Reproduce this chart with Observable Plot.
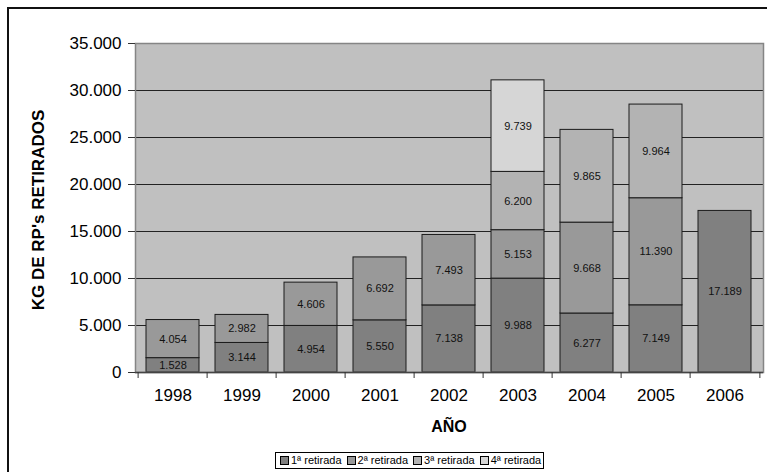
<!DOCTYPE html>
<html>
<head>
<meta charset="utf-8">
<script src="https://cdn.jsdelivr.net/npm/d3@7"></script>
<script src="https://cdn.jsdelivr.net/npm/@observablehq/plot@0.6"></script>
<style>
  body { margin: 0; background: #fff; }
  #wrap { position: relative; width: 767px; height: 472px; overflow: hidden; font-family: "Liberation Sans", Arial, sans-serif; }
  #border { position: absolute; left: 7px; top: 7px; width: 900px; height: 600px; border-left: 2px solid #111; border-top: 2px solid #111; }
  #chart { position: absolute; left: 0; top: 0; }
  #ytitle { position: absolute; left: 39px; top: 210px; transform: translate(-50%, -50%) rotate(-90deg); font-weight: bold; font-size: 17px; white-space: nowrap; }
  #xtitle { position: absolute; left: 449px; top: 427px; transform: translate(-50%, -50%); font-weight: bold; font-size: 16px; white-space: nowrap; }
  #legend { position: absolute; left: 275px; top: 452px; border: 1px solid #000; background: #fff; font-size: 11px; padding: 1px 2px 1px 4px; display: flex; gap: 5px; white-space: nowrap; line-height: 13px; }
  #legend span.sw { display: inline-block; width: 7px; height: 7px; border: 1px solid #000; margin-right: 2px; vertical-align: -1px; }
</style>
</head>
<body>
<div id="wrap">
  <div id="border"></div>
  <div id="chart"></div>
  <div id="ytitle">KG DE RP's RETIRADOS</div>
  <div id="xtitle">AÑO</div>
  <div id="legend"></div>
</div>
<script>
const years = ["1998", "1999", "2000", "2001", "2002", "2003", "2004", "2005", "2006"];
const seriesNames = ["1ª retirada", "2ª retirada", "3ª retirada", "4ª retirada"];
const retirada1 = [1528, 3144, 4954, 5550, 7138, 9988, 6277, 7149, 17189];
const retirada2 = [4054, 2982, 4606, 6692, 7493, 5153, 9668, 11390, null];
const retirada3 = [null, null, null, null, null, 6200, 9865, 9964, null];
const retirada4 = [null, null, null, null, null, 9739, null, null, null];
const yTicks = [0, 5000, 10000, 15000, 20000, 25000, 30000, 35000];
const colors = ["#808080", "#999999", "#b3b3b3", "#d6d6d6"];

const allSeries = [retirada1, retirada2, retirada3, retirada4];
const data = [];
allSeries.forEach((vals, si) => {
  vals.forEach((v, i) => {
    if (v != null) data.push({year: years[i], series: seriesNames[si], value: v});
  });
});

const fmt = d3.formatLocale({decimal: ",", thousands: ".", grouping: [3], currency: ["", "€"]}).format(",");

const W = 767, H = 472, mL = 135, mR = 4, mT = 43, mB = 100;
const step = (W - mL - mR) / years.length;

const chart = Plot.plot({
  width: W, height: H,
  marginLeft: mL, marginRight: mR, marginTop: mT, marginBottom: mB,
  style: {fontFamily: "'Liberation Sans', Arial, sans-serif", fontSize: "17px", background: "transparent", color: "#000", overflow: "visible"},
  x: {domain: years, paddingInner: 0.23, paddingOuter: 0.115, axis: null, label: null},
  y: {domain: [0, 35000], axis: null, label: null},
  color: {domain: seriesNames, range: colors},
  marks: [
    Plot.frame({fill: "#c0c0c0", stroke: null}),
    Plot.ruleY(yTicks.filter(d => d > 0 && d < 35000), {stroke: "#222", strokeWidth: 1}),
    Plot.barY(data, {x: "year", y: "value", fill: "series", z: "series", stroke: "#1a1a1a", strokeWidth: 1}),
    Plot.text(data, Plot.stackY({x: "year", y: "value", z: "series", text: d => fmt(d.value), fontSize: 11, fill: "#111"})),
    Plot.frame({stroke: "#858585", strokeWidth: 1.5}),
    Plot.ruleY([0], {stroke: "#444", strokeWidth: 1.5}),
    Plot.axisY({ticks: yTicks, tickFormat: fmt, tickSize: 7, tickPadding: 7, fontSize: 17, stroke: "#333"}),
    Plot.axisX({tickSize: 0, tickPadding: 16, fontSize: 17}),
    Plot.axisX({tickSize: 6, text: null, dx: -step / 2, stroke: "#333"}),
    Plot.axisX({ticks: [years[years.length - 1]], tickSize: 6, text: null, dx: step / 2, stroke: "#333"})
  ]
});
document.getElementById("chart").appendChild(chart);

const legend = document.getElementById("legend");
seriesNames.forEach((name, i) => {
  const item = document.createElement("span");
  const sw = document.createElement("span");
  sw.className = "sw";
  sw.style.background = colors[i];
  item.appendChild(sw);
  item.appendChild(document.createTextNode(name));
  legend.appendChild(item);
});
</script>
</body>
</html>
